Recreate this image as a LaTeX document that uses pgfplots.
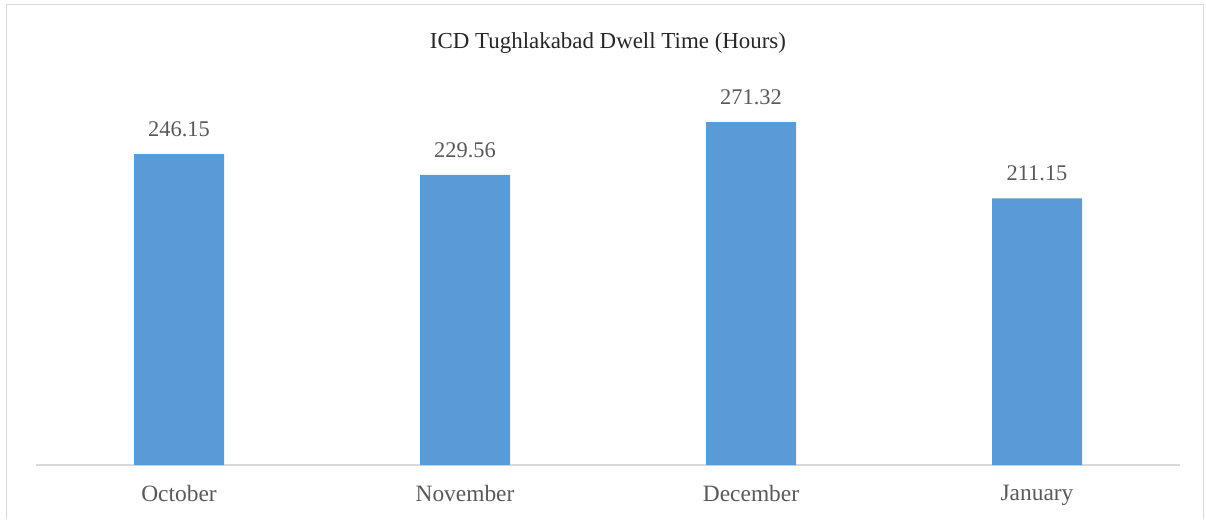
\documentclass[border=0pt]{standalone}
\usepackage{fontspec}
\setmainfont{Liberation Serif}
\usepackage{pgfplots}
\pgfplotsset{compat=1.18}
\usetikzlibrary{calc}
\definecolor{barblue}{HTML}{5B9BD5}
\definecolor{txtgray}{HTML}{595959}
\definecolor{axgray}{HTML}{D9D9D9}
\begin{document}
\begin{tikzpicture}
\begin{axis}[
    scale only axis,
    width=1144bp, height=379bp,
    ybar, bar width=90bp,
    xmin=-0.5, xmax=3.5, ymin=0, ymax=300,
    xtick=data,
    xticklabels={October,November,December,January},
    xticklabel style={font=\fontsize{23.5}{28}\selectfont, text=txtgray, yshift=-17bp},
    ytick=\empty,
    axis x line*=bottom, axis y line=none,
    x axis line style={axgray, line width=1.2pt, -},
    major tick length=0pt,
    nodes near coords,
    nodes near coords style={font=\fontsize{22.5}{27}\selectfont, text=txtgray, yshift=14bp},
    /pgf/number format/.cd, fixed, fixed zerofill, precision=2, assume math mode=true,
]
\addplot[fill=barblue, draw=none] coordinates {
    (0,246.15) (1,229.56) (2,271.32) (3,211.15)
};
\end{axis}
\node[font=\fontsize{23}{28}\selectfont, text=black!85] at ($(current axis.north)+(0,43bp)$) {ICD Tughlakabad Dwell Time (Hours)};
\draw[axgray, line width=1pt] ($(current axis.south west)+(-30bp,-54bp)$) -- ($(current axis.north west)+(-30bp,81bp)$) -- ($(current axis.north east)+(23bp,81bp)$) -- ($(current axis.south east)+(23bp,-54bp)$);
\path[use as bounding box] ($(current axis.south west)+(-36bp,-54bp)$) rectangle ($(current axis.north east)+(26bp,86bp)$);
\end{tikzpicture}
\end{document}
